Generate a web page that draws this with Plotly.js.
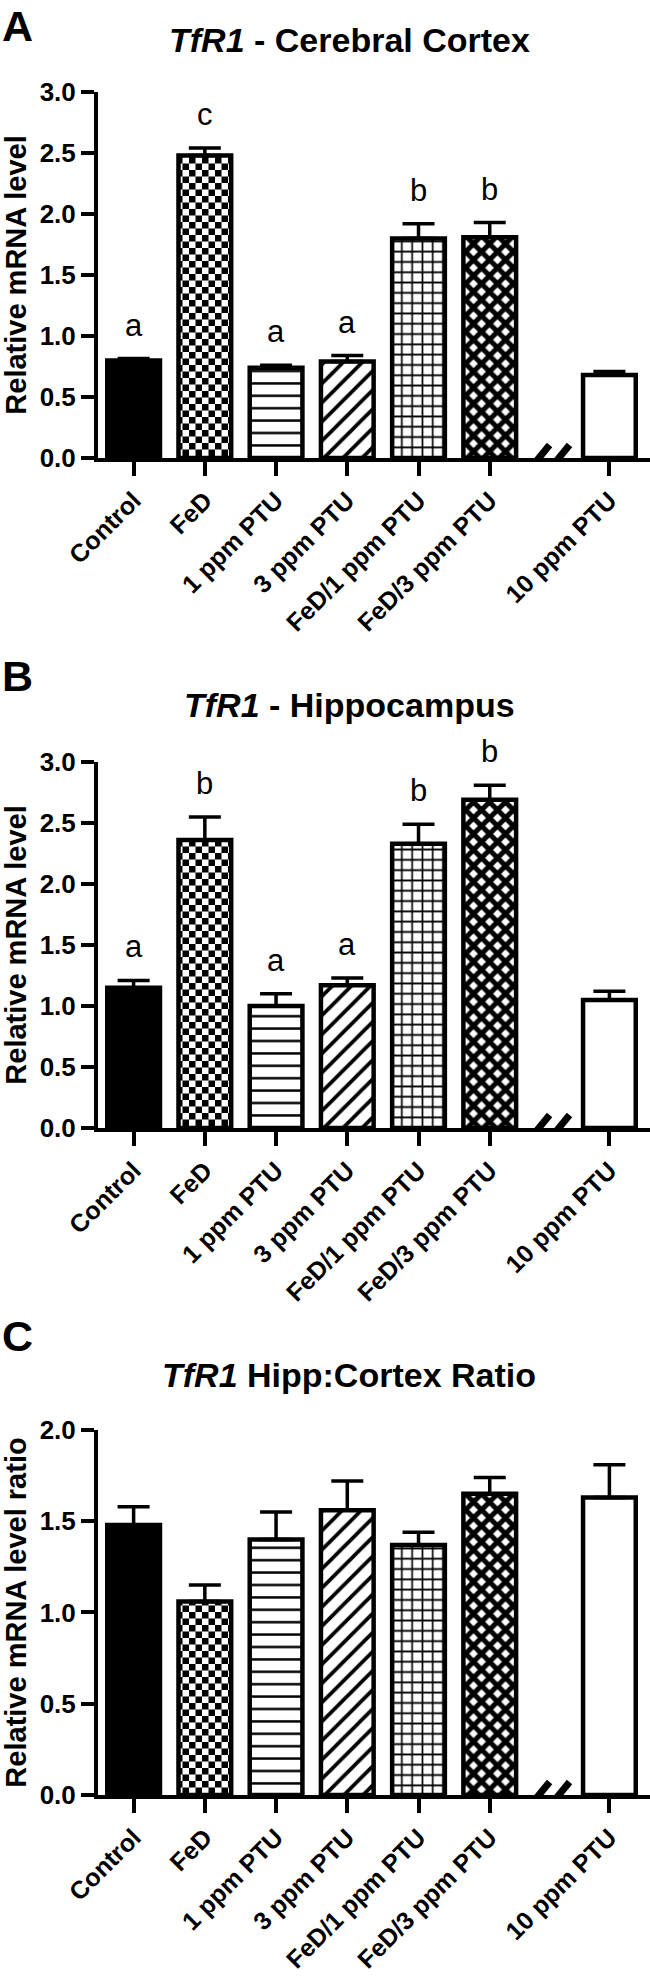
<!DOCTYPE html>
<html>
<head>
<meta charset="utf-8">
<script src="https://cdn.plot.ly/plotly-3.0.1.min.js"></script>
<style>
  body { margin: 0; background: white; }
  #chart { width: 650px; height: 1976px; }
</style>
</head>
<body>
<div id="chart"></div>
<script>
// treatment groups (same order in all three panels)
var groups = ["Control", "FeD", "1 ppm PTU", "3 ppm PTU", "FeD/1 ppm PTU", "FeD/3 ppm PTU", "10 ppm PTU"];

// A - cerebral cortex, relative mRNA level (mean, SEM)
var cortexMean = [0.80, 2.48, 0.74, 0.79, 1.80, 1.81, 0.68];
var cortexSem = [0.015, 0.06, 0.02, 0.05, 0.12, 0.12, 0.03];
var cortexLetters = ["a", "c", "a", "a", "b", "b", ""];

// B - hippocampus
var hippMean = [1.15, 2.36, 1.00, 1.17, 2.33, 2.69, 1.05];
var hippSem = [0.06, 0.19, 0.10, 0.06, 0.16, 0.12, 0.07];
var hippLetters = ["a", "b", "a", "a", "b", "b", ""];

// C - hippocampus:cortex ratio
var ratioMean = [1.48, 1.06, 1.40, 1.56, 1.37, 1.65, 1.63];
var ratioSem = [0.10, 0.09, 0.15, 0.16, 0.07, 0.09, 0.18];

// the last group sits after an axis break
var breakGap = 0.68;
var xPos = groups.map((g, i) => i === groups.length - 1 ? i + breakGap : i);

var font = "Arial, 'Liberation Sans', sans-serif";

// fill for each group: solid, checker, horizontal, diagonal, grid, crosshatch, open
var fills = [
  { color: "black" },
  { color: "white", pattern: { path: "M0,0H6.5V6.5H0ZM6.5,6.5H13V13H6.5Z", size: 13, solidity: 1, fgcolor: "black", bgcolor: "white" } },
  { color: "white", pattern: { shape: "-", size: 12.4, solidity: 0.2, fgcolor: "black", bgcolor: "white" } },
  { color: "white", pattern: { shape: "/", size: 13.5, solidity: 0.28, fgcolor: "black", bgcolor: "white" } },
  { color: "white", pattern: { shape: "+", size: 10.3, solidity: 0.3, fgcolor: "black", bgcolor: "white" } },
  { color: "white", pattern: { shape: "x", size: 11.3, solidity: 0.7, fgcolor: "black", bgcolor: "white" } },
  { color: "white" }
];

// one bar trace per group, upper error bar only
function panelTraces(means, sems, n) {
  var xa = n === 1 ? "x" : "x" + n;
  var ya = n === 1 ? "y" : "y" + n;
  return groups.map(function (g, i) {
    var trace = {
      type: "bar",
      name: g,
      x: [xPos[i]],
      y: [means[i]],
      xaxis: xa,
      yaxis: ya,
      width: 0.74,
      marker: { color: fills[i].color, line: { color: "black", width: 4.5 } },
      error_y: { type: "data", symmetric: false, array: [sems[i]], arrayminus: [0],
                 color: "black", thickness: 3.5, width: 16 },
      hoverinfo: "skip"
    };
    if (fills[i].pattern) trace.marker.pattern = fills[i].pattern;
    return trace;
  });
}

var data = []
  .concat(panelTraces(cortexMean, cortexSem, 1))
  .concat(panelTraces(hippMean, hippSem, 2))
  .concat(panelTraces(ratioMean, ratioSem, 3));

function xAxis(anchor) {
  return {
    anchor: anchor, domain: [0, 1], range: [-0.5, 7.25],
    tickmode: "array", tickvals: xPos, ticktext: groups, tickangle: -45,
    ticks: "outside", ticklen: 14, tickwidth: 4, tickcolor: "black",
    showline: true, linewidth: 4, linecolor: "black",
    showgrid: false, zeroline: false, fixedrange: true,
    tickfont: { family: font, size: 25, color: "black", weight: "bold" }
  };
}

function yAxis(anchor, domain, top, title) {
  return {
    anchor: anchor, domain: domain, range: [0, top],
    tick0: 0, dtick: 0.5, tickformat: ".1f",
    ticks: "outside", ticklen: 13, tickwidth: 4, tickcolor: "black",
    showline: true, linewidth: 4, linecolor: "black",
    showgrid: false, zeroline: false, fixedrange: true,
    tickfont: { family: font, size: 26, color: "black", weight: "bold" },
    title: { text: title, standoff: 10, font: { family: font, size: 29, color: "black", weight: "bold" } }
  };
}

// significance letters above the error bars
var annotations = [];
function addLetters(means, sems, letters, n) {
  letters.forEach(function (l, i) {
    if (!l) return;
    annotations.push({
      xref: n === 1 ? "x" : "x" + n, yref: n === 1 ? "y" : "y" + n,
      x: xPos[i], y: means[i] + sems[i], text: l, showarrow: false,
      yanchor: "bottom", yshift: 14,
      font: { family: font, size: 31, color: "black" }
    });
  });
}
addLetters(cortexMean, cortexSem, cortexLetters, 1);
addLetters(hippMean, hippSem, hippLetters, 2);

// panel titles and panel letters
var titles = [
  { text: "<i>TfR1</i> - Cerebral Cortex", y: 0.9798, tag: "A", tagY: 1.0 },
  { text: "<i>TfR1</i> - Hippocampus", y: 0.6432, tag: "B", tagY: 0.6711 },
  { text: "<i>TfR1</i> Hipp:Cortex Ratio", y: 0.3042, tag: "C", tagY: 0.3370 }
];
titles.forEach(function (t) {
  annotations.push({ xref: "paper", yref: "paper", x: 0.455, y: t.y, text: t.text, showarrow: false,
    xanchor: "center", yanchor: "middle", font: { family: font, size: 34, color: "black", weight: "bold" } });
  annotations.push({ xref: "paper", yref: "paper", x: -0.1775, y: t.tagY, text: t.tag, showarrow: false,
    xanchor: "left", yanchor: "top", font: { family: font, size: 43, color: "black", weight: "bold" } });
});

// axis break marks "//" between FeD/3 ppm PTU and 10 ppm PTU
var shapes = [];
var breakAt = (5 + xPos[6]) / 2;
[1, 2, 3].forEach(function (n) {
  [-0.15, 0.13].forEach(function (dx) {
    shapes.push({
      type: "line", xref: n === 1 ? "x" : "x" + n, yref: n === 1 ? "y" : "y" + n,
      ysizemode: "pixel", yanchor: 0,
      x0: breakAt + dx - 0.15, x1: breakAt + dx + 0.15, y0: -13, y1: 13,
      line: { color: "black", width: 7 }
    });
  });
});

var layout = {
  width: 650,
  height: 1976,
  margin: { l: 98, r: 0, t: 0, b: 0 },
  paper_bgcolor: "white",
  plot_bgcolor: "white",
  showlegend: false,
  barmode: "overlay",
  font: { family: font, color: "black" },
  xaxis: xAxis("y"),
  yaxis: yAxis("x", [0.76822, 0.95344], 3, "Relative mRNA level"),
  xaxis2: xAxis("y2"),
  yaxis2: yAxis("x2", [0.42915, 0.61437], 3, "Relative mRNA level"),
  xaxis3: xAxis("y3"),
  yaxis3: yAxis("x3", [0.09160, 0.27632], 2, "Relative mRNA level ratio"),
  annotations: annotations,
  shapes: shapes
};

Plotly.newPlot("chart", data, layout, { displayModeBar: false, staticPlot: true });
</script>
</body>
</html>
